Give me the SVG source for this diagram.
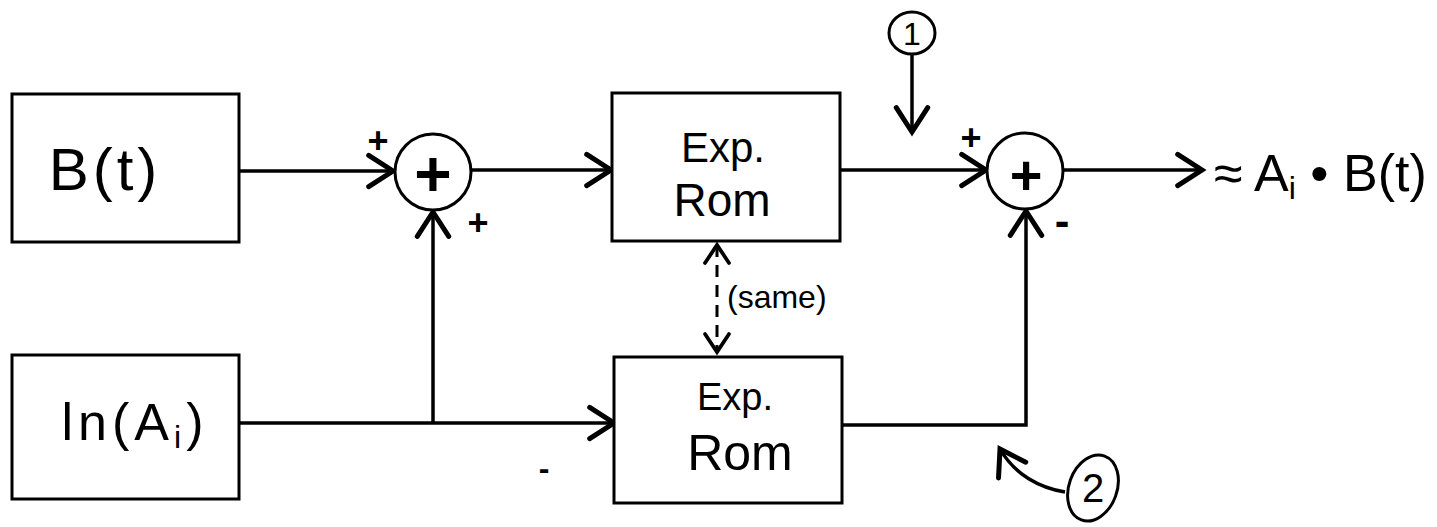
<svg xmlns="http://www.w3.org/2000/svg" width="1437" height="527" viewBox="0 0 1437 527">
<style>
.box{fill:#fff;stroke:#000;stroke-width:3}
.sum{fill:#fff;stroke:#000;stroke-width:3}
.ln{fill:none;stroke:#000;stroke-width:3.5}
.dash{fill:none;stroke:#000;stroke-width:3;stroke-dasharray:12 8}
.t{font-family:"Liberation Sans",Arial,sans-serif;fill:#000}
.sign{font-family:"Liberation Sans",Arial,sans-serif;font-weight:bold;fill:#000;text-anchor:middle;dominant-baseline:central}
</style>
<defs>
<marker id="ah" markerUnits="userSpaceOnUse" markerWidth="40" markerHeight="40" viewBox="-22 -14 26 28" refX="0" refY="0" orient="auto">
<path d="M-17,-11 L0,0 L-17,11" fill="none" stroke="#000" stroke-width="3.5" stroke-linecap="round"/>
</marker>
<marker id="ahs" markerUnits="userSpaceOnUse" markerWidth="30" markerHeight="30" viewBox="-16 -10 20 20" refX="0" refY="0" orient="auto-start-reverse">
<path d="M-12,-8 L0,0 L-12,8" fill="none" stroke="#000" stroke-width="2.5" stroke-linecap="round"/>
</marker>
</defs>
<g id="connectors">
<line class="ln" x1="239" y1="171" x2="393" y2="171" marker-end="url(#ah)"/>
<line class="ln" x1="472" y1="170" x2="611" y2="170" marker-end="url(#ah)"/>
<line class="ln" x1="239" y1="423" x2="614" y2="423" marker-end="url(#ah)"/>
<line class="ln" x1="433" y1="423" x2="433" y2="212" marker-end="url(#ah)"/>
<line class="ln" x1="840" y1="170" x2="986" y2="170" marker-end="url(#ah)"/>
<polyline class="ln" points="842,425 1026,425 1026,211" marker-end="url(#ah)"/>
<line class="ln" x1="1064" y1="170" x2="1202" y2="170" marker-end="url(#ah)"/>
<line class="dash" x1="717" y1="245" x2="717" y2="352" marker-start="url(#ahs)" marker-end="url(#ahs)"/>
<line class="ln" x1="912" y1="55" x2="912" y2="132" marker-end="url(#ah)"/>
<path class="ln" d="M1065,492 C1040,488 1015,475 1000,449" marker-end="url(#ah)"/>
</g>
<g id="node-bt">
<rect class="box" x="12" y="94" width="227" height="148"/>
<text class="t" x="105" y="190" font-size="60" text-anchor="middle" letter-spacing="4">B(t)</text>
</g>
<g id="node-lnai">
<rect class="box" x="12" y="355" width="227" height="144"/>
<text class="t" x="135" y="440" font-size="52" text-anchor="middle" letter-spacing="5">ln(A<tspan font-size="32" dy="8">i</tspan><tspan dy="-8">)</tspan></text>
</g>
<g id="node-sum1">
<circle class="sum" cx="433" cy="172" r="38"/>
<text class="sign" x="433" y="174" font-size="64">+</text>
<text class="sign" x="378" y="140" font-size="36">+</text>
<text class="sign" x="478" y="222" font-size="36">+</text>
</g>
<g id="node-rom1">
<rect class="box" x="612" y="93" width="228" height="148"/>
<text class="t" x="723" y="162" font-size="42" text-anchor="middle">Exp.</text>
<text class="t" x="722" y="216" font-size="46" text-anchor="middle">Rom</text>
</g>
<g id="node-rom2">
<rect class="box" x="614" y="357" width="228" height="146"/>
<text class="t" x="735" y="410" font-size="38" text-anchor="middle">Exp.</text>
<text class="t" x="740" y="470" font-size="50" text-anchor="middle">Rom</text>
</g>
<g id="label-same">
<text class="t" x="727" y="308" font-size="32">(same)</text>
</g>
<g id="node-sum2">
<circle class="sum" cx="1025" cy="171" r="38"/>
<text class="sign" x="1026" y="174" font-size="56">+</text>
<text class="sign" x="971" y="137" font-size="36">+</text>
<text class="sign" x="1062" y="220" font-size="44">-</text>
</g>
<g id="node-out">
<text class="t" x="1214" y="191" font-size="52">≈ A<tspan font-size="32" dy="8">i</tspan><tspan dy="-8"> • B(t)</tspan></text>
</g>
<g id="marker-1">
<ellipse cx="912" cy="33" rx="23" ry="21" fill="none" stroke="#000" stroke-width="3"/>
<text class="t" x="912" y="45" font-size="32" text-anchor="middle">1</text>
</g>
<g id="marker-2">
<ellipse cx="1093" cy="488" rx="24" ry="34" transform="rotate(20 1093 488)" fill="none" stroke="#000" stroke-width="3"/>
<text class="t" x="1093" y="502" font-size="40" text-anchor="middle">2</text>
</g>
<g id="stray-minus">
<text class="sign" x="544" y="468" font-size="32">-</text>
</g>
</svg>
